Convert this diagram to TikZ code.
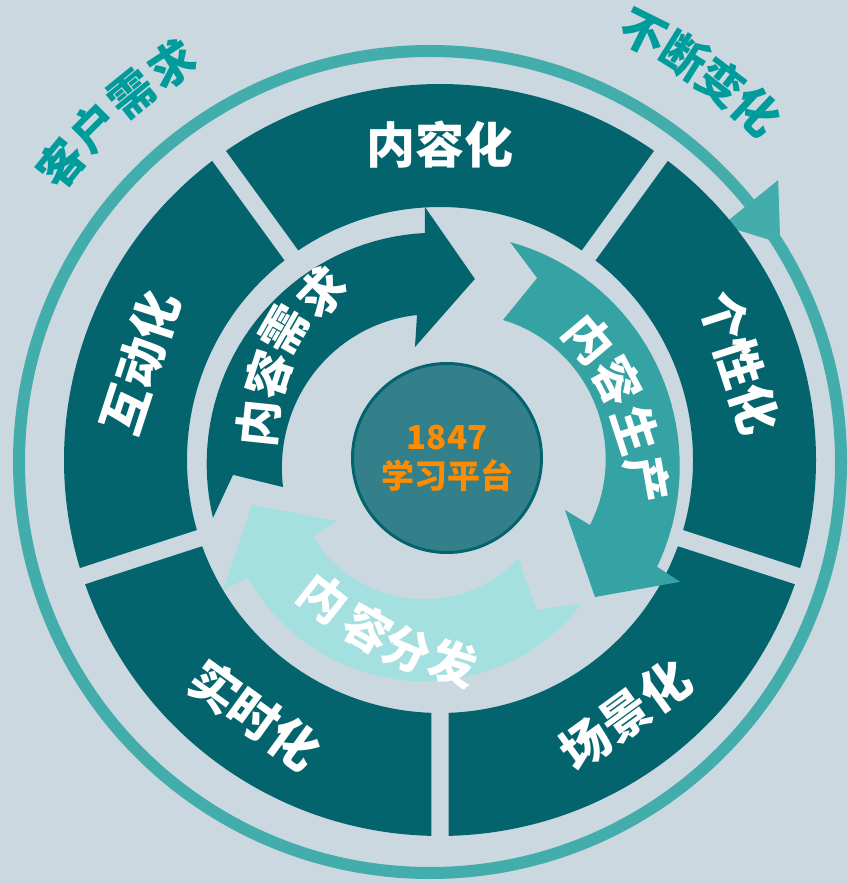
\documentclass[tikz,border=0pt]{standalone}
\usepackage{fontspec}
\newfontfamily\cjk{Noto Sans CJK SC}
\usepackage{tikz}
\usetikzlibrary{positioning}

\definecolor{bgcol}{HTML}{CBD8E0}
\definecolor{segcol}{HTML}{03646E}
\definecolor{ringcol}{HTML}{43ADAC}
\definecolor{makecol}{HTML}{35A2A3}
\definecolor{sendcol}{HTML}{A5E0E1}
\definecolor{hubcol}{HTML}{33808A}
\definecolor{hubtext}{HTML}{FF8C00}
\definecolor{outercol}{HTML}{009B9B}

\begin{document}
\begin{tikzpicture}[x=1pt, y=1pt,  % pixel grid of the picture, y up
		seg/.style={fill=segcol},
		seglabel/.style={text=white, inner sep=0pt, font=\cjk\bfseries\fontsize{49}{51}\selectfont},
		arrlabel/.style={text=white, inner sep=0pt, font=\cjk\bfseries\fontsize{47}{49}\selectfont},
		outerlabel/.style={text=outercol, inner sep=0pt, font=\cjk\bfseries\fontsize{46}{48}\selectfont},
		hub/.style={circle, fill=hubcol, draw=segcol, line width=3pt, minimum size=189pt, inner sep=0pt,
			align=center, text=hubtext, font=\cjk\bfseries\fontsize{33}{39}\selectfont}
	]
		\fill[bgcol] (0,0) rectangle (848,883);
		\useasboundingbox (0,0) rectangle (848,883);

		% outer ring with its arrow
		\coordinate (rc) at (430,421);
		\draw[ringcol, line width=12pt] (rc) circle[radius=411];
		\fill[ringcol, shift={(rc)}] (32:413) -- (39:376) -- (39:448) -- cycle;
		\begin{scope}[shift={(rc)}]
			\foreach \ch/\a [count=\i] in {客/141, 户/135, 需/129, 求/123}
				\node[outerlabel, rotate=\a-90] (cust\i) at (\a:474) {\ch};
			\foreach \ch/\a [count=\i] in {不/63.5, 断/58, 变/52.5, 化/47}
				\node[outerlabel, rotate=\a-90] (change\i) at (\a:479) {\ch};
		\end{scope}

		% five segments
		\begin{scope}[shift={(440,423)}]
			\foreach \a/\rot/\txt [count=\i] in {90/0/内容化, 18/-72/个性化, -54/36/场景化, -126/-36/实时化, 162/72/互动化}{
				\fill[seg] ({\a+34.7}:376) arc[start angle=\a+34.7, end angle=\a-34.7, radius=376]
					-- ({\a-34.07}:253) arc[start angle=\a-34.07, end angle=\a+34.07, radius=253] -- cycle;
				\node[seglabel, rotate=\rot] (seg\i) at (\a:315) {\txt};
			}
		\end{scope}

		% three circular arrows
		\fill[segcol, shift={(440,423)}] (194.3:234.3)
			-- plot[domain=194.3:93.8, samples=40] (\x:{234.3-6.8*(194.3-\x)/100.5})
			-- (93.4:253.4) -- (79.1:184.4) -- (102.5:115.7) -- (99:146.8)
			-- plot[domain=99:189.8, samples=40] (\x:{146.8+12.5*(\x-99)/90.8})
			-- (184.1:207.5) -- cycle;
		\fill[makecol, shift={(445,421)}] (73.5:229.4)
			-- plot[domain=73.5:-26.3, samples=40] (\x:{229.4+7.2*(73.5-\x)/99.8})
			-- (-27:263.9) -- (-42:201.8) -- (-21.8:129.2) -- (-23.5:158.1)
			-- plot[domain=-23.5:67.8, samples=40] (\x:{158.1-4.7*(\x+23.5)/91.3+20*((\x+23.5)/91.3)*(1-(\x+23.5)/91.3)})
			-- (63.4:205.7) -- cycle;
		\fill[sendcol, shift={(430,413)}] (-41.3:201.9)
			-- plot[domain=-41.3:-149.3, samples=40] (\x:{201.9+9.7*(-41.3-\x)/108+20*((-41.3-\x)/108)*(1-(-41.3-\x)/108)})
			-- (-149.9:239.3) -- (-168.9:181.4) -- (-151.3:106) -- (-150.2:134.8)
			-- plot[domain=-150.2:-45, samples=40] (\x:{134.8-9.9*(\x+150.2)/105.2})
			-- (-52.7:176) -- cycle;

		\foreach \ch/\px/\py/\rot [count=\i] in {内/258/423/84, 容/268/375/72, 需/284/330/60, 求/321.7/292.5/46}
			\node[arrlabel, rotate=\rot] (need\i) at (\px,883-\py) {\ch};
		\foreach \ch/\px/\py/\rot [count=\i] in {内/589/339/-50, 容/618/381/-62, 生/636/430/-72, 产/647/480/-80}
			\node[arrlabel, rotate=\rot] (make\i) at (\px,883-\py) {\ch};
		\foreach \ch/\px/\py/\rot [count=\i] in {内/324/598/-38, 容/368/629/-30, 分/407/649/-23, 发/453/663/-17}
			\node[arrlabel, rotate=\rot] (send\i) at (\px,883-\py) {\ch};

		\node[hub] (hub) at (447,425) {1847\\学习平台};
	\end{tikzpicture}
\end{document}
